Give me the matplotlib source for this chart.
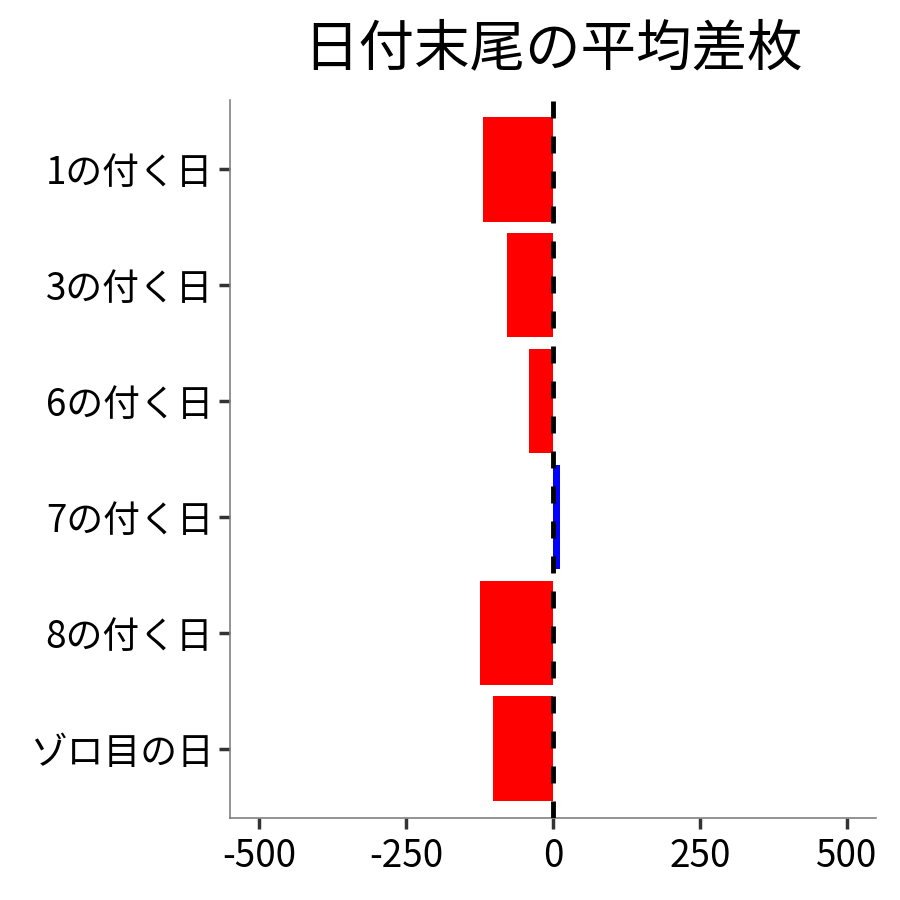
import matplotlib
matplotlib.use('Agg')
from matplotlib import pyplot as plt

plt.rcParams['font.family'] = ['Noto Sans CJK JP', 'DejaVu Sans']

days = ['1の付く日', '3の付く日', '6の付く日', '7の付く日', '8の付く日', 'ゾロ目の日']
diff = [-120, -78, -41, 11, -124, -102]
xticks = [-500, -250, 0, 250, 500]

colors = ['blue' if v > 0 else 'red' for v in diff]
ypos = list(range(len(days)))[::-1]  # first category on top

fig = plt.figure(figsize=(9, 9), dpi=100)
ax = fig.add_axes([0.2556, 0.0911, 0.7178, 0.7978])
ax.barh(ypos, diff, height=0.9, color=colors, zorder=2)
ax.axvline(0, color='black', linestyle=(0, (3.5, 3.7)), linewidth=3.5, zorder=3)

ax.set_xlim(-550, 550)
ax.set_ylim(-0.6, len(days) - 0.4)
ax.set_xticks(xticks)
ax.set_xticklabels([str(t) for t in xticks])
ax.set_yticks(ypos)
ax.set_yticklabels(days)
ax.tick_params(labelsize=26.5, length=8, width=2.5, color='#333333', pad=4)
ax.tick_params(axis='x', pad=6)
for s in ['top', 'right']:
    ax.spines[s].set_visible(False)
for s in ['left', 'bottom']:
    ax.spines[s].set_color('#808080')
    ax.spines[s].set_linewidth(1.2)

ax.set_title('日付末尾の平均差枚', fontsize=40, pad=25)
fig.savefig('out.png', dpi=100)
